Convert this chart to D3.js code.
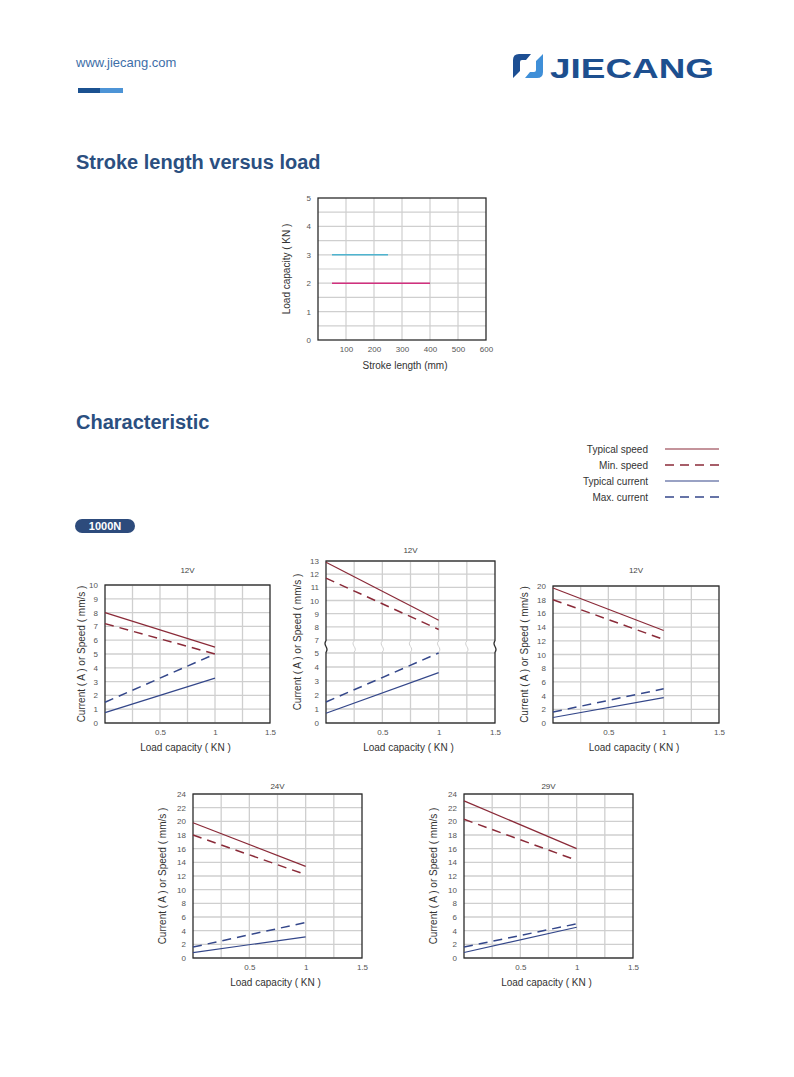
<!DOCTYPE html>
<html>
<head>
<meta charset="utf-8">
<script src="https://d3js.org/d3.v7.min.js"></script>
<style>
  body { margin: 0; background: #fff; }
  svg { display: block; font-family: "Liberation Sans", Arial, Helvetica, sans-serif; }
</style>
</head>
<body>
<div id="page"></div>
<script>
// ---- data ----
// stroke length versus load
var strokeTicksX = [100, 200, 300, 400, 500, 600];
var strokeTicksY = [0, 1, 2, 3, 4, 5];
var strokeCyan = [[50, 3], [250, 3]];
var strokeMagenta = [[50, 2], [400, 2]];

// characteristic charts: load in KN, values at 0 and 1 KN
var loadX = [0, 1];
var xTickLabels = [0.5, 1, 1.5];
var legendNames = ["Typical speed", "Min. speed", "Typical current", "Max. current"];

var c1TypSpeed = [8.0, 5.5], c1MinSpeed = [7.2, 5.0], c1TypCurrent = [0.75, 3.25], c1MaxCurrent = [1.5, 5.0];
var c2TypSpeed = [12.9, 8.5], c2MinSpeed = [11.7, 7.8], c2TypCurrent = [0.7, 3.6], c2MaxCurrent = [1.5, 5.0];
var c3TypSpeed = [19.7, 13.5], c3MinSpeed = [18.0, 12.2], c3TypCurrent = [0.8, 3.7], c3MaxCurrent = [1.6, 5.0];
var c4TypSpeed = [19.8, 13.4], c4MinSpeed = [18.0, 12.2], c4TypCurrent = [0.8, 3.1], c4MaxCurrent = [1.6, 5.2];
var c5TypSpeed = [23.0, 16.0], c5MinSpeed = [20.3, 14.3], c5TypCurrent = [0.8, 4.5], c5MaxCurrent = [1.6, 5.0];

var c1Ticks = d3.range(0, 11, 1);
var c2Ticks = [0, 1, 2, 3, 4, 5, 7, 8, 9, 10, 11, 12, 13];
var c3Ticks = d3.range(0, 21, 2);
var c45Ticks = d3.range(0, 25, 2);

var speedColor = "#8a2a38", currentColor = "#34478a";
var gridColor = "#cfcfcf", frameColor = "#2b2b2b", tickColor = "#555";

var svg = d3.select("#page").append("svg")
    .attr("width", 794).attr("height", 1077);

// ---- header ----
svg.append("text").attr("x", 76).attr("y", 67)
    .attr("font-size", 13).attr("fill", "#3d6ea8").text("www.jiecang.com");
svg.append("rect").attr("x", 78).attr("y", 88).attr("width", 22).attr("height", 5).attr("fill", "#1b5190");
svg.append("rect").attr("x", 100).attr("y", 88).attr("width", 23).attr("height", 5).attr("fill", "#4d94d6");

// logo
var logo = svg.append("g").attr("transform", "translate(513,54)");
logo.append("path").attr("d", "M6,0 H18 L13,6 H9 Q7,6 7,8 V17 L0,24 V6 Q0,0 6,0 Z").attr("fill", "#1d4f93");
logo.append("path").attr("d", "M24,24 H12 L17,18 H21 Q23,18 23,16 V7 L30,0 V18 Q30,24 24,24 Z").attr("fill", "#3f8fd8");
svg.append("text").attr("x", 550).attr("y", 78)
    .attr("font-size", 28).attr("font-weight", "bold").attr("fill", "#1d4f8f")
    .attr("textLength", 164).attr("lengthAdjust", "spacingAndGlyphs").text("JIECANG");

// section titles
svg.append("text").attr("x", 76).attr("y", 169).attr("font-size", 20).attr("font-weight", "bold")
    .attr("fill", "#2b4f80").text("Stroke length versus load");
svg.append("text").attr("x", 76).attr("y", 429).attr("font-size", 20).attr("font-weight", "bold")
    .attr("fill", "#2b4f80").text("Characteristic");

// ---- stroke chart ----
(function() {
    var left = 318, top = 198, w = 168, h = 142;
    var g = svg.append("g").attr("transform", "translate(" + left + "," + top + ")");
    var x = d3.scaleLinear().domain([0, 600]).range([0, w]);
    var y = d3.scaleLinear().domain([0, 5]).range([h, 0]);

    g.selectAll(".hg").data(d3.range(0.5, 5, 0.5)).enter().append("line")
        .attr("x1", 0).attr("x2", w).attr("y1", d => y(d)).attr("y2", d => y(d))
        .attr("stroke", gridColor).attr("stroke-width", 1.2);
    g.selectAll(".vg").data([100, 200, 300, 400, 500]).enter().append("line")
        .attr("y1", 0).attr("y2", h).attr("x1", d => x(d)).attr("x2", d => x(d))
        .attr("stroke", gridColor).attr("stroke-width", 1.2);

    var line = d3.line().x(d => x(d[0])).y(d => y(d[1]));
    g.append("path").attr("d", line(strokeCyan)).attr("stroke", "#4fb4cf").attr("stroke-width", 1.5).attr("fill", "none");
    g.append("path").attr("d", line(strokeMagenta)).attr("stroke", "#d1307e").attr("stroke-width", 1.5).attr("fill", "none");

    g.append("rect").attr("width", w).attr("height", h).attr("fill", "none")
        .attr("stroke", frameColor).attr("stroke-width", 1.3);

    var xa = g.append("g").attr("transform", "translate(0," + h + ")")
        .call(d3.axisBottom(x).tickValues(strokeTicksX).tickSize(0).tickPadding(6));
    var ya = g.append("g").call(d3.axisLeft(y).tickValues(strokeTicksY).tickSize(0).tickPadding(7).tickFormat(d3.format("d")));
    [xa, ya].forEach(function(a) {
        a.select(".domain").remove();
        a.selectAll("text").attr("font-size", 8).attr("fill", tickColor).attr("font-family", null);
    });

    g.append("text").attr("transform", "translate(-28," + (h / 2) + ") rotate(-90)")
        .attr("text-anchor", "middle").attr("font-size", 10).attr("fill", "#333").text("Load capacity ( KN )");
    g.append("text").attr("x", w / 2 + 3).attr("y", h + 29)
        .attr("text-anchor", "middle").attr("font-size", 10).attr("fill", "#333").text("Stroke length (mm)");
})();

// ---- legend ----
var legendStyles = [
    { c: speedColor, dash: null, w: 1.2 },
    { c: speedColor, dash: "9,6", w: 1.5 },
    { c: currentColor, dash: null, w: 1.2 },
    { c: currentColor, dash: "9,6", w: 1.5 }
];
legendNames.forEach(function(n, i) {
    var yy = 449 + i * 16;
    svg.append("text").attr("x", 648).attr("y", yy + 4).attr("text-anchor", "end")
        .attr("font-size", 10).attr("fill", "#333").text(n);
    svg.append("line").attr("x1", 665).attr("x2", 719).attr("y1", yy).attr("y2", yy)
        .attr("stroke", legendStyles[i].c).attr("stroke-width", legendStyles[i].w)
        .attr("stroke-dasharray", legendStyles[i].dash);
});

// badge
svg.append("rect").attr("x", 75).attr("y", 519).attr("width", 60).attr("height", 14).attr("rx", 7)
    .attr("fill", "#2d4b7c");
svg.append("text").attr("x", 105).attr("y", 530).attr("text-anchor", "middle")
    .attr("font-size", 11).attr("font-weight", "bold").attr("fill", "#fff").text("1000N");

// ---- characteristic charts ----
function drawChart(o) {
    var g = svg.append("g").attr("transform", "translate(" + o.left + "," + o.top + ")");
    var w = o.w, h = o.h;
    var x = d3.scaleLinear().domain([0, 1.5]).range([0, w]);
    var y = o.y;

    // grid
    g.selectAll(".hg").data(o.grid).enter().append("line")
        .attr("x1", 0).attr("x2", w).attr("y1", d => y(d)).attr("y2", d => y(d))
        .attr("stroke", gridColor).attr("stroke-width", 1.3);
    g.selectAll(".vg").data([0.25, 0.5, 0.75, 1, 1.25]).enter().append("line")
        .attr("y1", 0).attr("y2", h).attr("x1", d => x(d)).attr("x2", d => x(d))
        .attr("stroke", gridColor).attr("stroke-width", 1.3);

    g.append("rect").attr("width", w).attr("height", h).attr("fill", "none")
        .attr("stroke", frameColor).attr("stroke-width", 1.3);

    // axis break
    if (o.brk) {
        var b0 = y(o.brk[0]) - 1, b1 = y(o.brk[1]) + 1;
        g.append("rect").attr("x", -3).attr("y", b1).attr("width", w + 6).attr("height", b0 - b1).attr("fill", "#fff");
        [0, 0.25, 0.5, 0.75, 1, 1.25, 1.5].forEach(function(v) {
            var xx = x(v), edge = (v === 0 || v === 1.5);
            g.append("path")
                .attr("d", "M" + xx + "," + b1 + " C" + (xx - 4) + "," + (b1 + 4) + " " + (xx + 4) + "," + (b0 - 4) + " " + xx + "," + b0)
                .attr("fill", "none").attr("stroke", edge ? frameColor : gridColor).attr("stroke-width", edge ? 1.3 : 1);
        });
    }

    // series
    var line = d3.line().x(d => x(d[0])).y(d => y(d[1]));
    function pts(v) { return loadX.map((l, i) => [l, v[i]]); }
    var series = [
        { v: o.typSpeed, s: legendStyles[0] },
        { v: o.minSpeed, s: legendStyles[1] },
        { v: o.typCurrent, s: legendStyles[2] },
        { v: o.maxCurrent, s: legendStyles[3] }
    ];
    series.forEach(function(sr) {
        g.append("path").attr("d", line(pts(sr.v))).attr("fill", "none")
            .attr("stroke", sr.s.c).attr("stroke-width", sr.s.w).attr("stroke-dasharray", sr.s.dash);
    });

    // axes
    var xa = g.append("g").attr("transform", "translate(0," + h + ")")
        .call(d3.axisBottom(x).tickValues(xTickLabels).tickSize(0).tickPadding(6).tickFormat(d3.format("")));
    var ya = g.append("g").call(d3.axisLeft(y).tickValues(o.ticks).tickSize(0).tickPadding(7));
    [xa, ya].forEach(function(a) {
        a.select(".domain").remove();
        a.selectAll("text").attr("font-size", 8).attr("fill", tickColor).attr("font-family", null);
    });

    g.append("text").attr("x", w / 2).attr("y", o.titleY).attr("text-anchor", "middle")
        .attr("font-size", 8).attr("fill", "#444").text(o.title);
    g.append("text").attr("transform", "translate(" + o.ylabX + "," + (h / 2) + ") rotate(-90)")
        .attr("text-anchor", "middle").attr("font-size", 10).attr("fill", "#333").text("Current ( A ) or Speed ( mm/s )");
    g.append("text").attr("x", w / 2 - 2).attr("y", h + 28).attr("text-anchor", "middle")
        .attr("font-size", 10).attr("fill", "#333").text("Load capacity ( KN )");
}

drawChart({ left: 105, top: 585, w: 165, h: 138, title: "12V", titleY: -12, ylabX: -20,
    y: d3.scaleLinear().domain([0, 10]).range([138, 0]), ticks: c1Ticks, grid: c1Ticks,
    typSpeed: c1TypSpeed, minSpeed: c1MinSpeed, typCurrent: c1TypCurrent, maxCurrent: c1MaxCurrent });

drawChart({ left: 326, top: 561, w: 169, h: 162, title: "12V", titleY: -8, ylabX: -25,
    y: d3.scaleLinear().domain([0, 5, 7, 13]).range([162, 92, 79, 0]), ticks: c2Ticks, grid: c2Ticks, brk: [5, 7],
    typSpeed: c2TypSpeed, minSpeed: c2MinSpeed, typCurrent: c2TypCurrent, maxCurrent: c2MaxCurrent });

drawChart({ left: 553, top: 586, w: 166, h: 137, title: "12V", titleY: -13, ylabX: -25,
    y: d3.scaleLinear().domain([0, 20]).range([137, 0]), ticks: c3Ticks, grid: c3Ticks,
    typSpeed: c3TypSpeed, minSpeed: c3MinSpeed, typCurrent: c3TypCurrent, maxCurrent: c3MaxCurrent });

drawChart({ left: 193, top: 794, w: 169, h: 164, title: "24V", titleY: -5, ylabX: -27,
    y: d3.scaleLinear().domain([0, 24]).range([164, 0]), ticks: c45Ticks, grid: c45Ticks,
    typSpeed: c4TypSpeed, minSpeed: c4MinSpeed, typCurrent: c4TypCurrent, maxCurrent: c4MaxCurrent });

drawChart({ left: 464, top: 794, w: 169, h: 164, title: "29V", titleY: -5, ylabX: -27,
    y: d3.scaleLinear().domain([0, 24]).range([164, 0]), ticks: c45Ticks, grid: c45Ticks,
    typSpeed: c5TypSpeed, minSpeed: c5MinSpeed, typCurrent: c5TypCurrent, maxCurrent: c5MaxCurrent });
</script>
</body>
</html>
